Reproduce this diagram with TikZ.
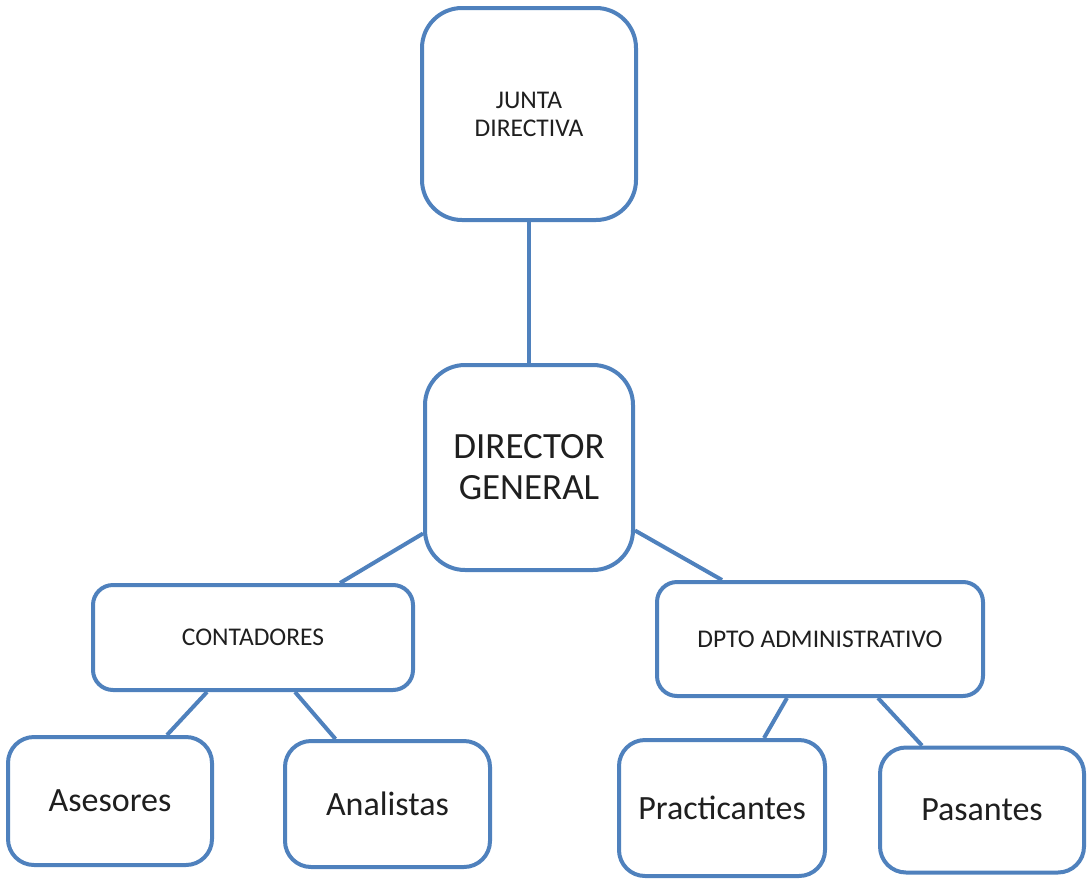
\documentclass[tikz,border=0pt]{standalone}
\usepackage{fontspec}
\setmainfont{Carlito}
\usepackage{tikz}
\definecolor{boxblue}{RGB}{79,129,189}

\begin{document}
\begin{tikzpicture}[x=1pt, y=-1pt,
        unit/.style={draw=boxblue, line width=4pt, fill=white, align=center, inner sep=2pt, text=black!88},
        smalltext/.style={font=\fontsize{25.5}{28}\selectfont},
        bigtext/.style={font=\fontsize{37}{41}\selectfont},
        leaftext/.style={font=\fontsize{34}{38}\selectfont},
        link/.style={draw=boxblue, line width=4pt}]
        \useasboundingbox (0,0) rectangle (1089,878);

        % Draw the top boxes
        \node[unit, smalltext, rounded corners=40pt, minimum width=214pt, minimum height=212pt] (junta) at (529,114) {JUNTA\\DIRECTIVA};
        \node[unit, bigtext, rounded corners=40pt, minimum width=208pt, minimum height=205pt] (director) at (529,467.5) {DIRECTOR\\GENERAL};

        % Draw the departments
        \node[unit, smalltext, rounded corners=20pt, minimum width=320pt, minimum height=105pt] (contadores) at (253,637.5) {CONTADORES};
        \node[unit, smalltext, rounded corners=20pt, minimum width=326pt, minimum height=114pt] (dpto) at (820,639) {DPTO ADMINISTRATIVO};

        % Draw the staff boxes
        \foreach \name/\x/\y/\w/\h/\label in {asesores/110/801/204/128/Asesores, analistas/387.5/804/205/126/Analistas, practicantes/722/808/206/136/Practicantes, pasantes/982/810/204/125/Pasantes} {
                \node[unit, leaftext, rounded corners=26pt, minimum width=\w pt, minimum height=\h pt] (\name) at (\x,\y) {\label};
            }

        % Connect the boxes
        \draw[link] (junta.south) -- (director.north);
        \draw[link] ([yshift=-66pt]director.west) -- ([xshift=87pt]contadores.north);
        \draw[link] ([yshift=-63pt]director.east) -- ([xshift=-98pt]dpto.north);
        \draw[link] ([xshift=-46pt]contadores.south) -- ([xshift=57pt]asesores.north);
        \draw[link] ([xshift=42pt]contadores.south) -- ([xshift=-52pt]analistas.north);
        \draw[link] ([xshift=-33pt]dpto.south) -- ([xshift=42pt]practicantes.north);
        \draw[link] ([xshift=58pt]dpto.south) -- ([xshift=-60pt]pasantes.north);
    \end{tikzpicture}
\end{document}
